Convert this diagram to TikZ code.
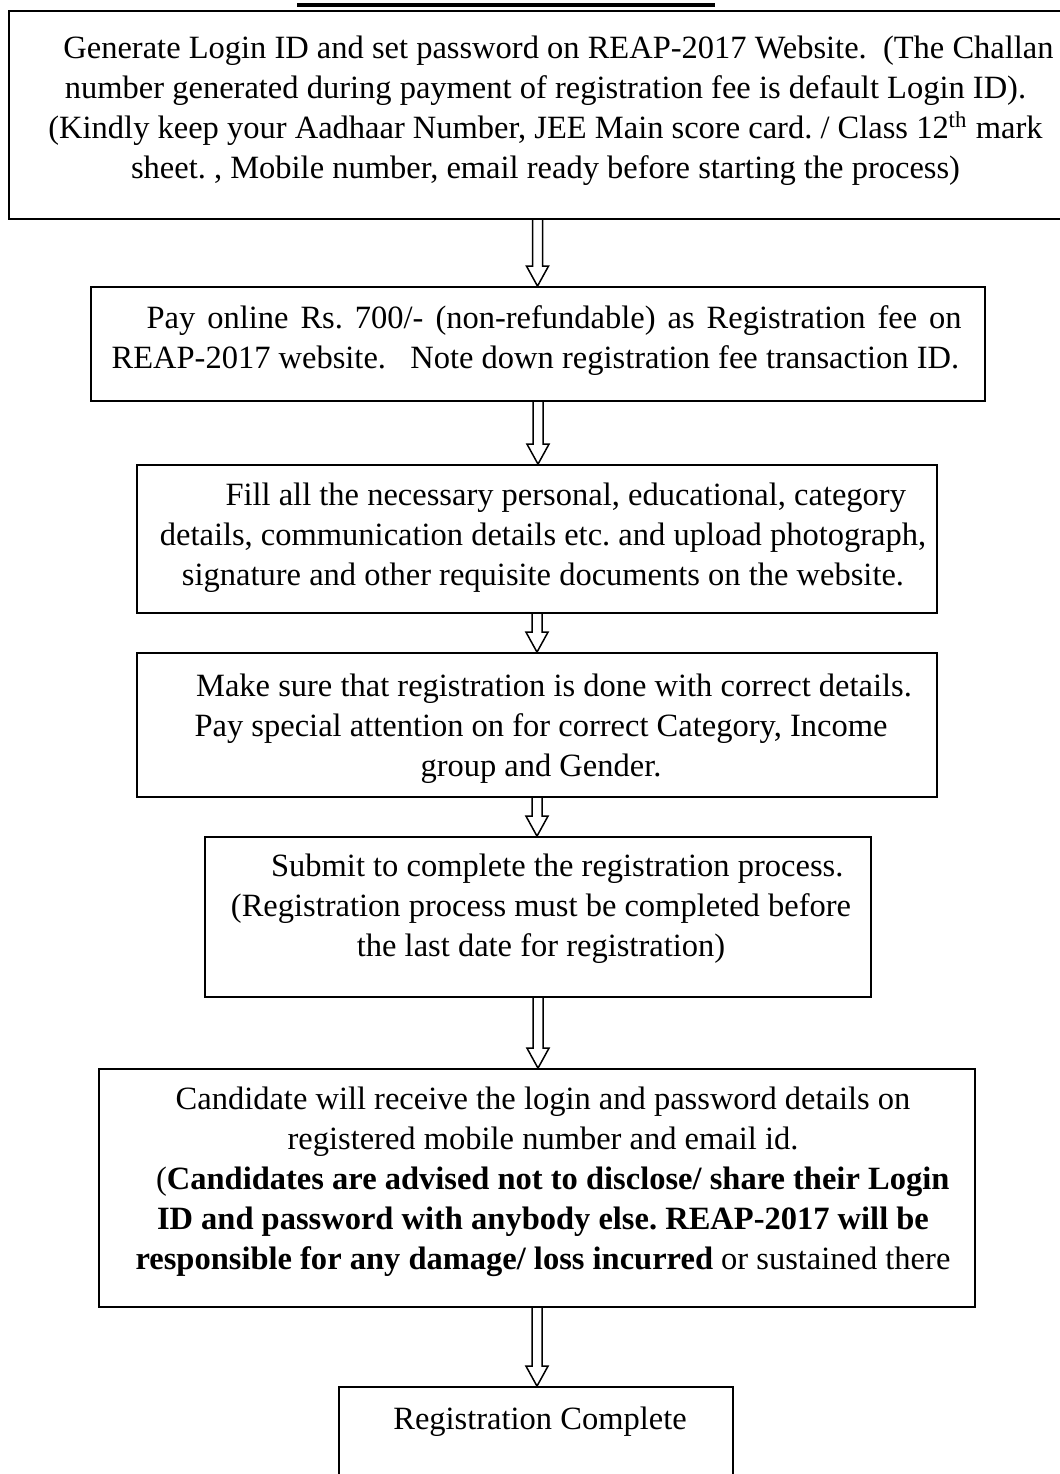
\documentclass[tikz,border=0pt]{standalone}
\usepackage{fontspec}
\setmainfont{Liberation Serif}
\frenchspacing
\usetikzlibrary{calc,fit,positioning}
\tikzset{
	box/.style={draw, line width=0.7pt, inner sep=0pt},
	txt/.style={anchor=north, align=center, inner sep=0pt, font=\fontsize{13}{16}\selectfont},
	hollow/.style={line width=0.6pt, to path={let \p1=(\tikztostart), \p2=(\tikztotarget) in
		(\x1-2pt,\y1) -- (\x1-2pt,\y2+8pt) -- (\x1-4.4pt,\y2+8pt) -- (\x1,\y2)
		-- (\x1+4.4pt,\y2+8pt) -- (\x1+2pt,\y2+8pt) -- (\x1+2pt,\y1)}}
}
\begin{document}
\begin{tikzpicture}[x=0.4pt, y=-0.4pt]
	\useasboundingbox (0,0) rectangle (1060,1474);
	% heading rule
	\draw[line width=1.6pt] (297,4.5) -- (715,4.5);
	% boxes
	\node[box, line width=0.8pt, fit={(9,11) (1066,219)}] (b1) {};
	\node[box, fit={(91,287) (985,401)}] (b2) {};
	\node[box, fit={(137,465) (937,613)}] (b3) {};
	\node[box, fit={(137,653) (937,797)}] (b4) {};
	\node[box, fit={(205,837) (871,997)}] (b5) {};
	\node[box, fit={(99,1069) (975,1307)}] (b6) {};
	\node[box, fit={(339,1387) (733,1500)}] (b7) {};
	% texts
	\node[txt] (t1) at ($(b1.north)+(8,25)$) {\hspace*{0.8em}Generate Login ID and set password on REAP-2017 Website.\ \ (The Challan\\
		number generated during payment of registration fee is default Login ID).\\
		(Kindly keep your Aadhaar Number, JEE Main score card. / Class 12\textsuperscript{th} mark\\
		sheet. , Mobile number, email ready before starting the process)};
	\node[txt, anchor=north west, align=left] (t2) at ($(b2.north west)+(21,19)$) {\hspace*{14pt}\makebox[326pt][s]{Pay online Rs. 700/- (non-refundable) as Registration fee on}\\
		REAP-2017 website.\ \ \ Note down registration fee transaction ID.};
	\node[txt] (t3) at ($(b3.north)+(6,18)$) {\hspace*{1.4em}Fill all the necessary personal, educational, category\\
		details, communication details etc. and upload photograph,\\
		signature and other requisite documents on the website.};
	\node[txt] (t4) at ($(b4.north)+(4,21)$) {\hspace*{0.8em}Make sure that registration is done with correct details.\\
		Pay special attention on for correct Category, Income\\
		group and Gender.};
	\node[txt] (t5) at ($(b5.north)+(3,17)$) {\hspace*{1em}Submit to complete the registration process.\\
		(Registration process must be completed before\\
		the last date for registration)};
	\node[txt] (t6) at ($(b6.north)+(6,18)$) {Candidate will receive the login and password details on\\
		registered mobile number and email id.\\
		\hspace*{0.6em}({\bfseries Candidates are advised not to disclose/ share their Login}\\
		{\bfseries ID and password with anybody else. REAP-2017 will be}\\
		{\bfseries responsible for any damage/ loss incurred} or sustained there};
	\node[txt] (t7) at ($(b7.north)+(4,20)$) {Registration Complete};
	% connectors
	\draw[hollow] (b1.south) to (b2.north);
	\draw[hollow] (b2.south) to (b3.north);
	\draw[hollow] (b3.south) to (b4.north);
	\draw[hollow] (b4.south) to (b5.north);
	\draw[hollow] (b5.south) to (b6.north);
	\draw[hollow] (b6.south) to (b7.north);
\end{tikzpicture}
\end{document}
